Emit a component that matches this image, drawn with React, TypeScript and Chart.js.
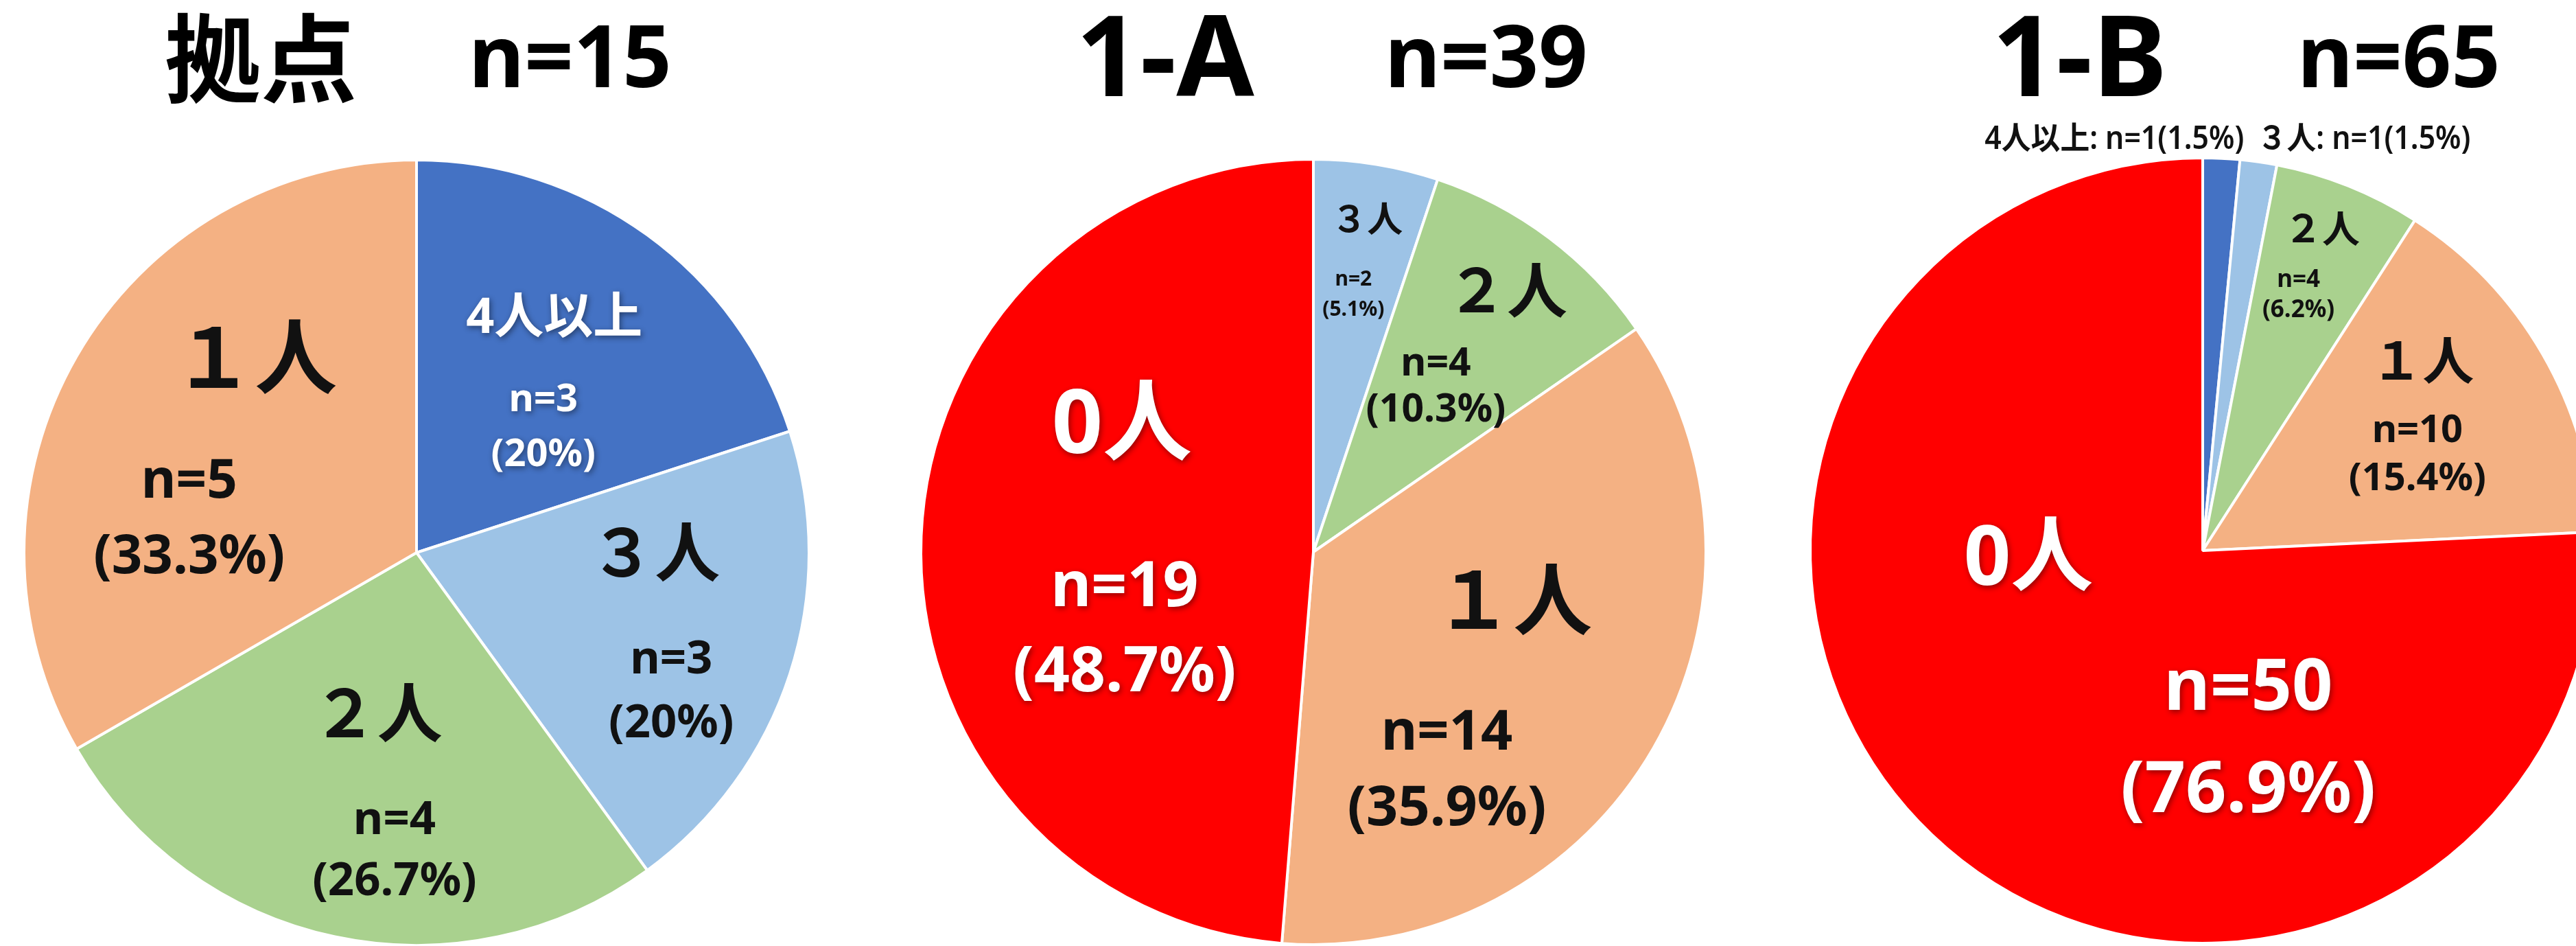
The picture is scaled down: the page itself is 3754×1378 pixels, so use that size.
import React, { useEffect, useRef } from "react";
import { Chart, registerables } from "chart.js";

Chart.register(...registerables);

// ---- data ----
const groupNames = ["拠点", "1-A", "1-B"];
// respondents per group, as stated in each heading (percentages use these)
const respondents = [15, 39, 65];

const categoriesBase = ["4人以上", "３人", "２人", "１人"];
const valuesBase = [3, 3, 4, 5];

const categories1A = ["３人", "２人", "１人", "0人"];
const values1A = [2, 4, 14, 19];

const categories1B = ["4人以上", "３人", "２人", "１人", "0人"];
const values1B = [1, 1, 4, 10, 50];

// ---- styles ----
const categoryColors: Record<string, string> = {
  "4人以上": "#4472C4",
  "３人": "#9DC3E6",
  "２人": "#A9D18E",
  "１人": "#F4B183",
  "0人": "#FF0000",
};

const FONT = '"Noto Sans", "Noto Sans CJK JP", sans-serif';
const RADIUS = 572;
const CANVAS_W = 1240;
const CANVAS_H = 1300;

type Spot = [number, number, number]; // x, y (in radii from centre), font size
type SliceLabel = {
  name?: Spot;
  count?: Spot;
  pct?: [number, number];
  inline?: Spot;
  color: string;
  glow?: boolean;
};

const layoutBase: SliceLabel[] = [
  { name: [0.351, -0.595, 72], count: [0.323, -0.388, 56], pct: [0.323, -0.249], color: "#fff", glow: true },
  { name: [0.607, 0.014, 95], count: [0.649, 0.275, 67], pct: [0.649, 0.437], color: "#111" },
  { name: [-0.1, 0.423, 95], count: [-0.056, 0.684, 67], pct: [-0.056, 0.839], color: "#111" },
  { name: [-0.412, -0.479, 120], count: [-0.579, -0.179, 78], pct: [-0.579, 0.014], color: "#111" },
];

const layout1A: SliceLabel[] = [
  { name: [0.137, -0.84, 52], count: [0.102, -0.693, 30], pct: [0.102, -0.616], color: "#111" },
  { name: [0.493, -0.654, 88], count: [0.312, -0.477, 57], pct: [0.312, -0.361], color: "#111" },
  { name: [0.509, 0.139, 115], count: [0.34, 0.463, 81], pct: [0.34, 0.656], color: "#111" },
  { name: [-0.488, -0.316, 130], count: [-0.481, 0.093, 91], pct: [-0.481, 0.309], color: "#fff", glow: true },
];

const layout1B: SliceLabel[] = [
  { inline: [-0.225, -1.045, 46], color: "#111" },
  { inline: [0.411, -1.045, 46], color: "#111" },
  { name: [0.304, -0.812, 55], count: [0.244, -0.688, 35], pct: [0.244, -0.611], color: "#111" },
  { name: [0.56, -0.472, 75], count: [0.547, -0.304, 56], pct: [0.547, -0.182], color: "#111" },
  { name: [-0.444, 0.028, 120], count: [0.116, 0.353, 104], pct: [0.116, 0.614], color: "#fff", glow: true },
];

const fmtPct = (v: number, total: number) => {
  const p = Math.round((v / total) * 1000) / 10;
  return `${p % 1 === 0 ? p.toFixed(0) : p.toFixed(1)}%`;
};

const sliceLabelPlugin = {
  id: "sliceLabels",
  afterDatasetsDraw(chart: any, _args: any, opts: any) {
    const items: SliceLabel[] = opts.items || [];
    const total: number = opts.total;
    const meta = chart.getDatasetMeta(0);
    if (!meta.data.length) return;
    const { x, y, outerRadius } = meta.data[0].getProps(["x", "y", "outerRadius"], true);
    const r = outerRadius;
    const values: number[] = chart.data.datasets[0].data;
    const labels: string[] = chart.data.labels;
    const ctx: CanvasRenderingContext2D = chart.ctx;
    ctx.save();
    ctx.textAlign = "center";
    ctx.textBaseline = "middle";
    items.forEach((it, i) => {
      ctx.fillStyle = it.color;
      if (it.glow) {
        ctx.shadowColor = "rgba(0,0,0,0.45)";
        ctx.shadowBlur = 8;
        ctx.shadowOffsetX = 2;
        ctx.shadowOffsetY = 3;
      } else {
        ctx.shadowColor = "transparent";
        ctx.shadowBlur = 0;
        ctx.shadowOffsetX = 0;
        ctx.shadowOffsetY = 0;
      }
      const v = values[i];
      if (it.inline) {
        const [fx, fy, size] = it.inline;
        ctx.save();
        ctx.translate(x + fx * r, y + fy * r);
        ctx.scale(0.93, 1);
        ctx.font = `600 ${size}px ${FONT}`;
        ctx.fillText(`${labels[i]}: n=${v}(${fmtPct(v, total)})`, 0, 0);
        ctx.restore();
      }
      if (it.name) {
        const [fx, fy, size] = it.name;
        ctx.font = `bold ${size}px ${FONT}`;
        ctx.fillText(labels[i], x + fx * r, y + fy * r);
      }
      if (it.count) {
        const [fx, fy, size] = it.count;
        ctx.font = `bold ${size}px ${FONT}`;
        ctx.fillText(`n=${v}`, x + fx * r, y + fy * r);
        if (it.pct) {
          ctx.fillText(`(${fmtPct(v, total)})`, x + it.pct[0] * r, y + it.pct[1] * r);
        }
      }
    });
    ctx.restore();
  },
};

type PieProps = {
  categories: string[];
  values: number[];
  total: number;
  layout: SliceLabel[];
  cx: number;
  cy: number;
};

function Pie({ categories, values, total, layout, cx, cy }: PieProps) {
  const ref = useRef<HTMLCanvasElement | null>(null);
  useEffect(() => {
    if (!ref.current) return;
    const chart = new Chart(ref.current, {
      type: "pie",
      data: {
        labels: categories,
        datasets: [
          {
            data: values,
            backgroundColor: categories.map((c) => categoryColors[c]),
            borderColor: "#ffffff",
            borderWidth: 4,
          },
        ],
      },
      options: {
        responsive: false,
        animation: false,
        radius: RADIUS,
        layout: { padding: 0 },
        plugins: {
          legend: { display: false },
          tooltip: { enabled: false },
          // @ts-ignore
          sliceLabels: { items: layout, total },
        },
      } as any,
      plugins: [sliceLabelPlugin],
    });
    return () => chart.destroy();
  }, []);
  return (
    <canvas
      ref={ref}
      width={CANVAS_W}
      height={CANVAS_H}
      style={{
        position: "absolute",
        left: cx - CANVAS_W / 2,
        top: cy - CANVAS_H / 2,
        width: CANVAS_W,
        height: CANVAS_H,
      }}
    />
  );
}

function Title({ text, left, top, size }: { text: string; left: number; top: number; size: number }) {
  return (
    <div
      style={{
        position: "absolute",
        left,
        top,
        fontFamily: FONT,
        fontWeight: 700,
        fontSize: size,
        lineHeight: 1,
        color: "#000",
        whiteSpace: "nowrap",
      }}
    >
      {text}
    </div>
  );
}

export default function App() {
  return (
    <div
      style={{
        position: "absolute",
        left: 0,
        top: 0,
        width: 3754,
        height: 1378,
        overflow: "hidden",
        background: "#ffffff",
      }}
    >
      <Pie categories={categoriesBase} values={valuesBase} total={respondents[0]} layout={layoutBase} cx={607} cy={805} />
      <Pie categories={categories1A} values={values1A} total={respondents[1]} layout={layout1A} cx={1914} cy={804} />
      <Pie categories={categories1B} values={values1B} total={respondents[2]} layout={layout1B} cx={3210} cy={802} />

      <Title text={groupNames[0]} left={240} top={14} size={140} />
      <Title text={`n=${respondents[0]}`} left={683} top={16} size={125} />
      <Title text={groupNames[1]} left={1568} top={-5} size={164} />
      <Title text={`n=${respondents[1]}`} left={2018} top={16} size={125} />
      <Title text={groupNames[2]} left={2903} top={-5} size={164} />
      <Title text={`n=${respondents[2]}`} left={3348} top={16} size={125} />
    </div>
  );
}
